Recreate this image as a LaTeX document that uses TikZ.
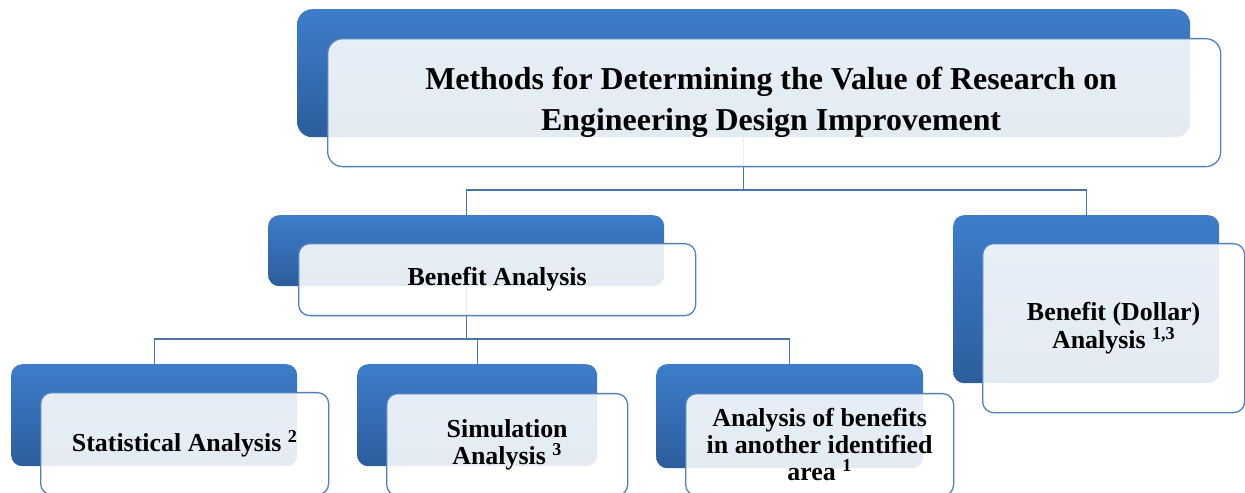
\documentclass[tikz,border=0pt]{standalone}
\usepackage{fontspec}
\setmainfont{Liberation Serif}
\usetikzlibrary{backgrounds}
\definecolor{bluetop}{RGB}{61,125,202}
\definecolor{bluemid}{RGB}{57,116,190}
\definecolor{bluebot}{RGB}{44,93,156}
\definecolor{boxline}{RGB}{79,129,189}
\definecolor{connline}{RGB}{74,116,172}
\begin{document}
\begin{tikzpicture}[x=1bp,y=-1bp,
  bluebox/.style={rounded corners=11bp, top color=bluetop, middle color=bluemid, bottom color=bluebot, draw=none, inner sep=0pt, anchor=north west},
  whitebox/.style={rounded corners=11bp, draw=boxline, line width=1.3bp, fill=white, fill opacity=0.88, text opacity=1, inner sep=0pt, anchor=north west, align=center, font=\bfseries\fontsize{26}{27}\selectfont},
  conn/.style={draw=connline, line width=1.3bp}]
\useasboundingbox (0,0) rectangle (1245,493);
% blue back boxes
\node[bluebox, rounded corners=15bp, minimum width=893bp, minimum height=128bp] (topB) at (297,9) {};
\node[bluebox, minimum width=396bp, minimum height=71bp] (benB) at (268,215) {};
\node[bluebox, minimum width=266bp, minimum height=168bp] (dolB) at (953,215) {};
\node[bluebox, minimum width=286bp, minimum height=102bp] (statB) at (11,364) {};
\node[bluebox, minimum width=240bp, minimum height=102bp] (simB) at (357,364) {};
\node[bluebox, minimum width=267bp, minimum height=104bp] (anaB) at (656,364) {};
% white front boxes
\node[whitebox, rounded corners=15bp, minimum width=893bp, minimum height=128bp, font=\bfseries\fontsize{32}{41}\selectfont] (topW) at (327,38)
  {Methods for Determining the Value of Research on\hspace*{6bp}\\Engineering Design Improvement\hspace*{6bp}};
\node[whitebox, minimum width=397bp, minimum height=72bp] (benW) at (298,243) {Benefit Analysis};
\node[whitebox, minimum width=262bp, minimum height=169bp, font=\bfseries\fontsize{26}{28}\selectfont] (dolW) at (982,243) {Benefit (Dollar)\\Analysis \textsuperscript{1,3}};
\node[whitebox, minimum width=288bp, minimum height=102bp] (statW) at (40,392) {Statistical Analysis \textsuperscript{2}};
\node[whitebox, minimum width=241bp, minimum height=102bp, font=\bfseries\fontsize{26}{27}\selectfont] (simW) at (386,393) {Simulation\\Analysis \textsuperscript{3}};
\node[whitebox, minimum width=268bp, minimum height=102bp] (anaW) at (685,393) {Analysis of benefits\\in another identified\\area \textsuperscript{1}};
% connectors
\coordinate (j1) at (0,190);
\coordinate (j2) at (0,339);
\begin{scope}[on background layer]
\draw[conn] (topB.center) -- (topB.center |- j1) -| (benB.north);
\draw[conn] (topB.center |- j1) -| (dolB.north);
\draw[conn] (benB.center) -- (benB.center |- j2) -| (statB.north);
\draw[conn] (benB.center |- j2) -| (simB.north);
\draw[conn] (benB.center |- j2) -| (anaB.north);
\end{scope}
\end{tikzpicture}
\end{document}
